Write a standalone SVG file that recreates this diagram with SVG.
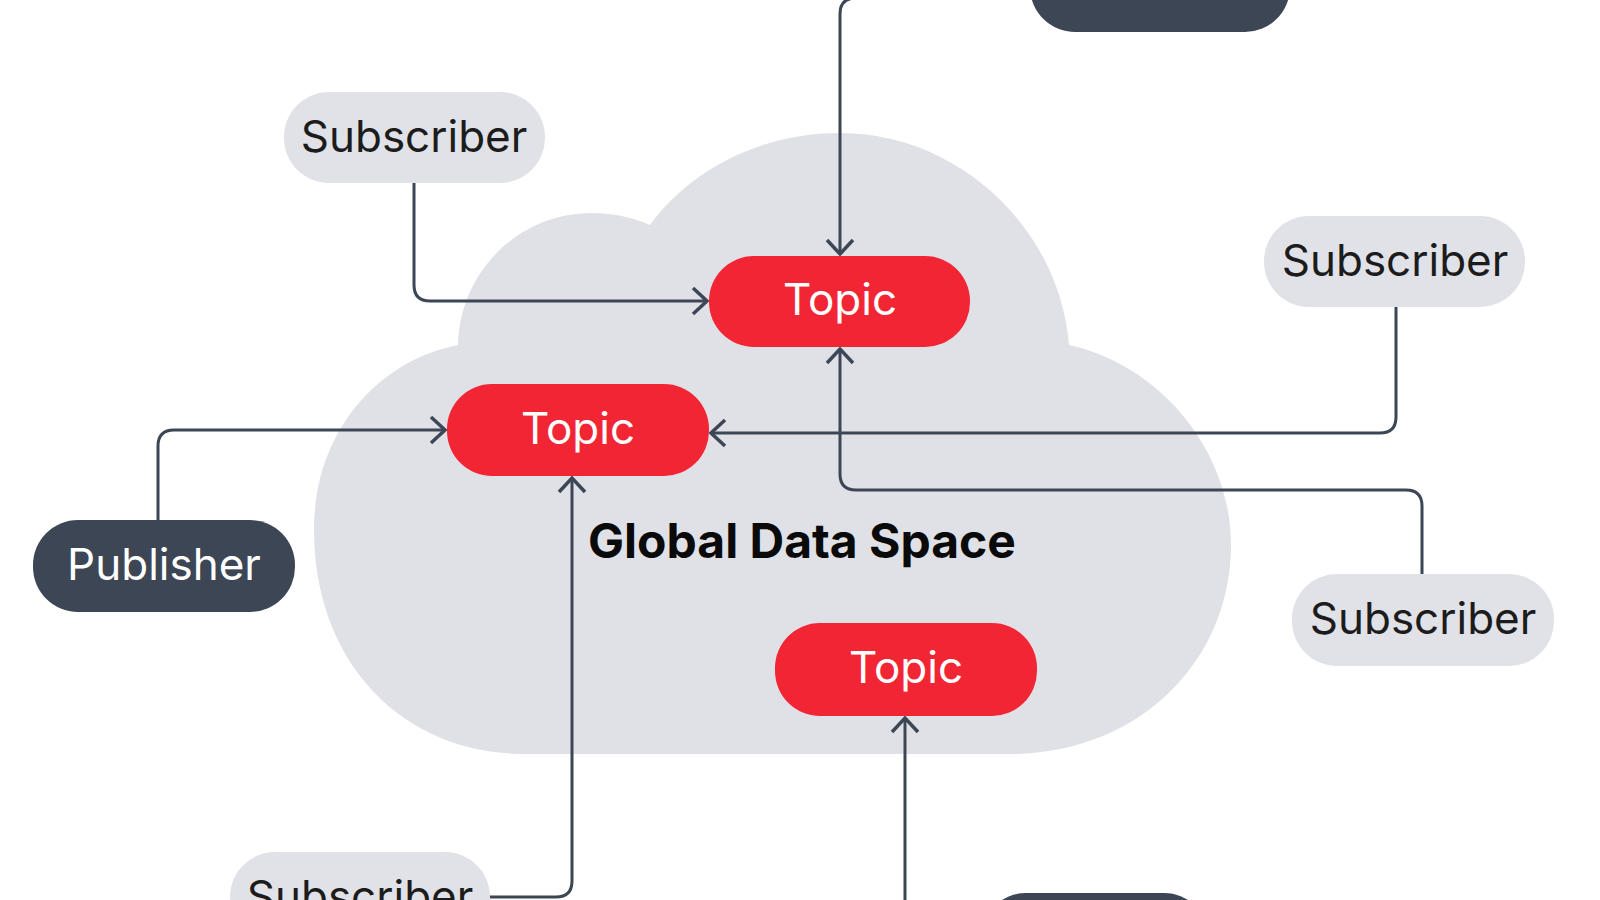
<svg xmlns="http://www.w3.org/2000/svg" width="1600" height="900" viewBox="0 0 1600 900">
<style>
.t{font-family:Inter,"Liberation Sans",sans-serif;font-size:44px;text-anchor:middle;dominant-baseline:central}
.sub rect{fill:#e1e2e8}.sub text{fill:#1c1c1c}
.pub rect{fill:#3d4655}.pub text{fill:#fff}
.top rect{fill:#f22535}.top text{fill:#fff}
.c path{fill:none;stroke:#3d4655;stroke-width:3}
</style>
<defs><marker id="a" markerWidth="20" markerHeight="32" refX="17" refY="16" orient="auto" markerUnits="userSpaceOnUse"><path d="M3 3 L17 16 L3 29" fill="none" stroke="#3d4655" stroke-width="3.5"/></marker></defs>
<rect width="1600" height="900" fill="#fff"/>
<path id="cloud" d="M525 754 C400 754 314 660 314 530 C314 430 380 360 458 345 C460 270 520 213 592 213 C615 213 635 218 650 225 C690 170 760 133 840 133 C960 133 1060 230 1069 345 C1160 365 1231 450 1231 545 C1231 660 1140 754 1010 754 Z" fill="#e0e1e7"/>
<text x="802" y="540" font-family="Inter,'Liberation Sans',sans-serif" font-size="48" font-weight="bold" text-anchor="middle" dominant-baseline="central" fill="#0a0a0a">Global Data Space</text>
<g class="c">
<path d="M414 183 V285 Q414 301 430 301 H707" marker-end="url(#a)"/>
<path d="M880 -2 H856 Q840 -2 840 14 V254" marker-end="url(#a)"/>
<path d="M158 520 V446 Q158 430 174 430 H445" marker-end="url(#a)"/>
<path d="M1396 307 V417 Q1396 433 1380 433 H711" marker-end="url(#a)"/>
<path d="M1422 574 V506 Q1422 490 1406 490 H856 Q840 490 840 474 V349" marker-end="url(#a)"/>
<path d="M905 900 V718" marker-end="url(#a)"/>
<path d="M490 897 H556 Q572 897 572 881 V478" marker-end="url(#a)"/>
</g>
<g id="sub1" class="sub"><rect x="284" y="92" width="261" height="91" rx="45"/><text class="t" x="414" y="136">Subscriber</text></g>
<g id="sub2" class="sub"><rect x="1264" y="216" width="261" height="91" rx="45"/><text class="t" x="1395" y="260">Subscriber</text></g>
<g id="sub3" class="sub"><rect x="1292" y="574" width="262" height="92" rx="45"/><text class="t" x="1423" y="618">Subscriber</text></g>
<g id="sub4" class="sub"><rect x="230" y="852" width="260" height="92" rx="45"/><text class="t" x="360" y="896">Subscriber</text></g>
<g id="pub1" class="pub"><rect x="33" y="520" width="262" height="92" rx="45"/><text class="t" x="164" y="564">Publisher</text></g>
<g id="pub2" class="pub"><rect x="1030" y="-60" width="260" height="92" rx="45"/></g>
<g id="pub3" class="pub"><rect x="981" y="893" width="228" height="92" rx="45"/></g>
<g id="topic1" class="top"><rect x="709" y="256" width="261" height="91" rx="45"/><text class="t" x="840" y="299">Topic</text></g>
<g id="topic2" class="top"><rect x="447" y="384" width="262" height="92" rx="45"/><text class="t" x="578" y="428">Topic</text></g>
<g id="topic3" class="top"><rect x="775" y="623" width="262" height="93" rx="45"/><text class="t" x="906" y="667">Topic</text></g>
</svg>
